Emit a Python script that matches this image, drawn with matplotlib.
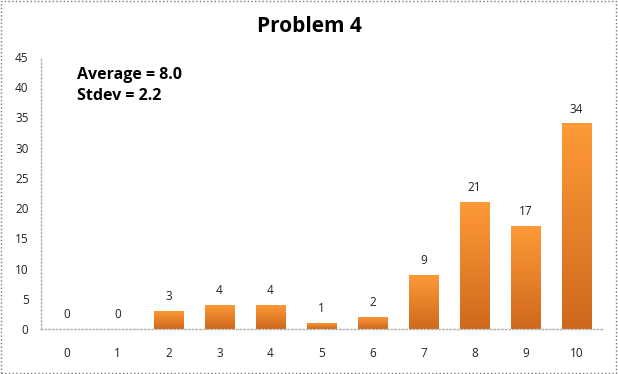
import matplotlib.pyplot as plt
import numpy as np
from matplotlib.patches import Rectangle
from matplotlib.colors import LinearSegmentedColormap

scores = [0, 1, 2, 3, 4, 5, 6, 7, 8, 9, 10]
counts = [0, 0, 3, 4, 4, 1, 2, 9, 21, 17, 34]
title = "Problem 4"
stats_lines = ["Average = 8.0", "Stdev = 2.2"]

plt.rcParams['font.family'] = ['Open Sans', 'DejaVu Sans']

fig = plt.figure(figsize=(6.18, 3.74), dpi=100)
ax = fig.add_axes([0.0663, 0.1203, 0.9077, 0.7273])

x = np.arange(len(scores))
bars = ax.bar(x, counts, width=0.58, color='none', edgecolor='none')

# vertical orange gradient inside each bar
grad = np.linspace(0, 1, 256).reshape(-1, 1)
cmap = LinearSegmentedColormap.from_list('og', ['#D0681C', '#FF9A38'])
for b in bars:
    h = b.get_height()
    if h <= 0:
        continue
    x0 = b.get_x()
    w = b.get_width()
    im = ax.imshow(grad, cmap=cmap, extent=[x0, x0 + w, 0, h], origin='lower',
                   aspect='auto', zorder=2)
    im.set_clip_path(b)

for xi, c in zip(x, counts):
    ax.text(xi, c + 1.3, str(c), ha='center', va='bottom', fontsize=8.5, color='#222222')

ax.set_xlim(-0.5, len(scores) - 0.5)
ax.set_ylim(0, 45)
ax.set_yticks(range(0, 46, 5))
ax.set_xticks(x)
ax.set_xticklabels([str(s) for s in scores])
ax.tick_params(axis='both', length=0, labelsize=8.5, colors='#222222')
ax.tick_params(axis='x', pad=13)
ax.tick_params(axis='y', pad=9)

for s in ['top', 'right']:
    ax.spines[s].set_visible(False)
for s in ['left', 'bottom']:
    ax.spines[s].set_color('#B0B0B0')
    ax.spines[s].set_linestyle(':')
    ax.spines[s].set_linewidth(1)

fig.text(0.5, 0.928, title, ha='center', va='center', fontsize=15, fontweight='bold')
ax.text(0.065, 0.935, stats_lines[0], transform=ax.transAxes, fontsize=11.5,
        fontweight='bold', va='center')
ax.text(0.065, 0.855, stats_lines[1], transform=ax.transAxes, fontsize=11.5,
        fontweight='bold', va='center')

fig.patches.append(Rectangle((0.002, 0.003), 0.995, 0.994, transform=fig.transFigure,
                             fill=False, edgecolor='#777777', linestyle=':', linewidth=1))

fig.savefig('out.png', dpi=100)
